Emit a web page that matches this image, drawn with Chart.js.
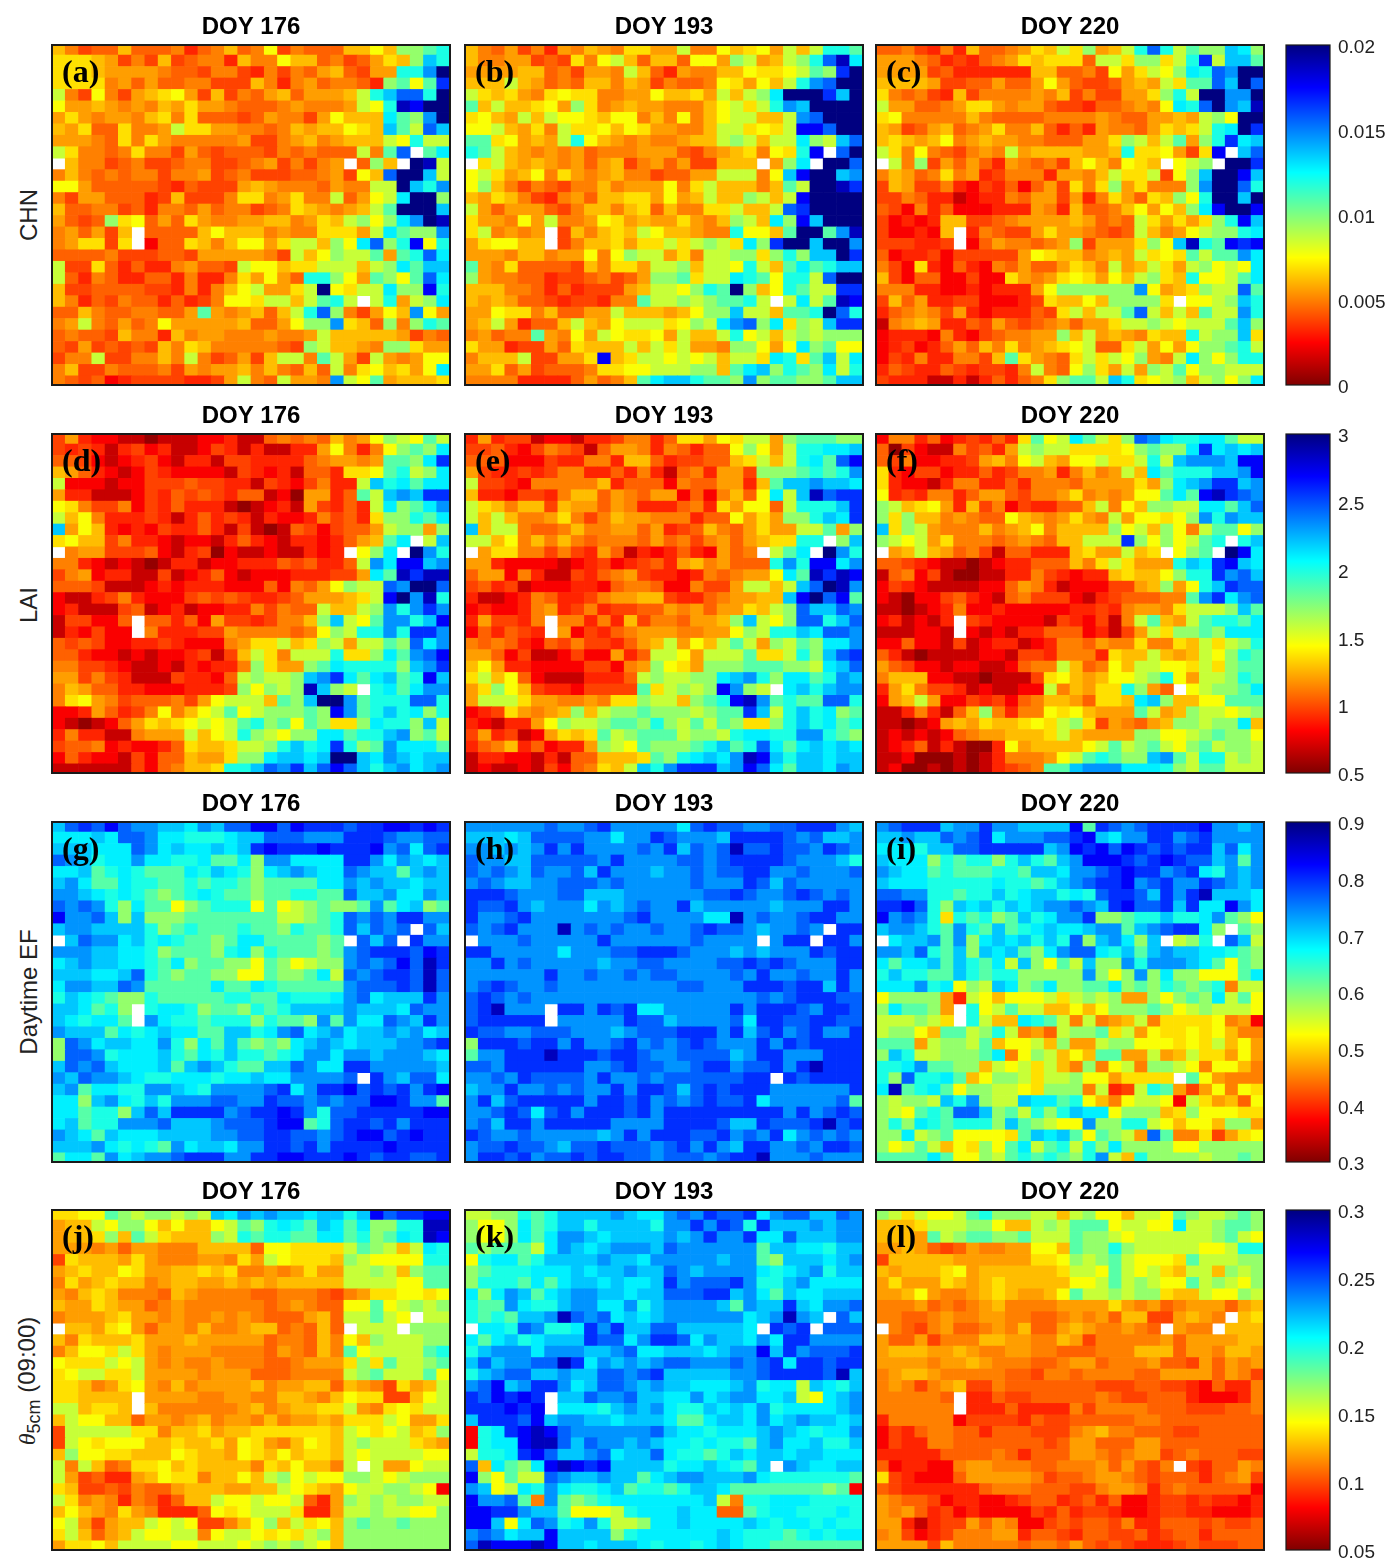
<!DOCTYPE html>
<html>
<head>
<meta charset="utf-8">
<title>CHN, LAI, EF and soil moisture maps</title>
<script src="https://cdn.jsdelivr.net/npm/chart.js@4"></script>
<style>
  body { margin: 0; background: #fff; width: 1390px; height: 1561px; overflow: hidden; position: relative; }
  .box { position: absolute; }
  .rowLabel { position: absolute; left: 29px; font: 24px "Liberation Sans", sans-serif; color: #222; white-space: nowrap; transform: translate(-50%, -50%) rotate(-90deg); }
  .rowLabel i { font-family: "Liberation Serif", serif; }
  .rowLabel sub { font-size: 18px; }
</style>
</head>
<body>
<script>
// cell values are written as one letter per cell, read off the colour of each cell
// '.' = no data, otherwise index into levelFractions (share of the colorbar range, from its bottom)
const levelChars = "0123456789abcdefghijklm";
const levelFractions = [0.02, 0.07, 0.12, 0.16, 0.19, 0.22, 0.25, 0.28, 0.31, 0.345, 0.38, 0.43, 0.48, 0.54, 0.6, 0.64, 0.68, 0.73, 0.78, 0.83, 0.88, 0.94, 1];

const doyTitles = ["DOY 176", "DOY 193", "DOY 220"];
const panelLetters = ["(a)", "(b)", "(c)", "(d)", "(e)", "(f)", "(g)", "(h)", "(i)", "(j)", "(k)", "(l)"];

const chnRange = [0, 0.02];
const laiRange = [0.5, 3];
const efRange = [0.3, 0.9];
const thetaRange = [0.05, 0.3];

const chnTicks = [0, 0.005, 0.01, 0.015, 0.02];
const chnTickLabels = ["0", "0.005", "0.01", "0.015", "0.02"];
const laiTicks = [0.5, 1, 1.5, 2, 2.5, 3];
const laiTickLabels = ["0.5", "1", "1.5", "2", "2.5", "3"];
const efTicks = [0.3, 0.4, 0.5, 0.6, 0.7, 0.8, 0.9];
const efTickLabels = ["0.3", "0.4", "0.5", "0.6", "0.7", "0.8", "0.9"];
const thetaTicks = [0.05, 0.1, 0.15, 0.2, 0.25, 0.3];
const thetaTickLabels = ["0.05", "0.1", "0.15", "0.2", "0.25", "0.3"];

const chn176 = [
"86455 85556 35685 6a465 5588a 8ccde",
"99987 46484 56638 66a88 56457 98cge",
"99987 77765 54664 36465 78547 7eehm",
"99996 75755 66444 86367 56653 cdadj",
"b64a6 4789a 74846 57857 778be giiem",
"a7787 67687 97765 55676 667ba elkmm",
"79767 76896 95554 57664 7a888 fdchm",
"87955 9667b 99776 65687 88a98 gdbig",
"77765 96976 66667 44678 67888 baebb",
"b9665 69664 75455 54656 555b6 di.df",
".8664 56445 66445 67464 67.5c 8.mlb",
"68656 56646 67456 44455 674a8 immgb",
"aa755 55543 54447 87666 5766b bmgeh",
"64775 55348 44469 96796 6b57a bfmmc",
"85566 45366 57566 45698 7678b dmmmg",
"7545c 9a575 97667 78867 98bca cfhml",
"67574 8.555 58a88 86766 9997b fdcch",
"67994 9.255 9868a a79bb 8cafi cekae",
"55556 44455 47777 764b8 acbbd 7deif",
"b4495 35336 7554b aa899 bbb8b cfdgg",
"b5365 33553 63369 7a75e eca7d cadif",
"84455 55443 6368a b779b ma9bb fccke",
"86354 65535 346aa 9bb8b deb.b e7bcf",
"55865 56655 7d767 858be ic647 a8ha7",
"67b65 756a7 77778 557ac ch985 c6ced",
"56554 86638 67766 67667 b8888 87465",
"54745 45486 98666 6654c b8876 cc977",
"466b4 46686 b6457 48bb6 db74b 767aa",
"68446 55564 76778 68658 5b69a 897af",
"65452 34444 3347b 65b77 6hbad 78889"
];
const chn193 = [
"86574 63768 76997 7b66a 89a7b 8beed",
"86677 45496 ab858 85aa7 cb78b ceilf",
"77778 85647 76b85 37668 8a99a bdcjm",
"888b8 75658 86874 6556a 97a8b ehimm",
"b9897 69a99 6677a 8897b 8bcfm mmjgm",
"d8b88 9a7c9 67877 6668a b9beh gmmmm",
"9a87b 8baa9 8aa68 6a68a bb88b himmm",
"aab87 96b99 a8a97 7668b b9a9b kkimm",
"dd9a7 87bea 87676 6788b cb8bb fcbgi",
"edb87 67675 66677 75467 896a9 ek.im",
".9b87 87675 78467 57448 88.7c f.mmi",
"ab978 a6976 78664 5577b bb6ag kmmgh",
"ac864 65466 86777 a69b8 8868d bmmlj",
"87986 43675 88997 a78b8 8cb8b kmmmm",
"b7577 75468 86895 86699 b88bi jmmmm",
"9776a 7b667 a9787 79768 cb8fc kgmmm",
"9b676 7.486 898ba 88766 eaa8d mmdhl",
"79aa8 8.468 89799 b9bcb 9fcjm mgmmh",
"77768 8677a 6acbb 796bb cc9ce cggmj",
"d7695 55548 6997b bc8bb aeb8d fdegg",
"c7665 53445 6457c cd9bb fedae ebimm",
"88866 53534 4478b baced mc8ae dbbjj",
"87875 54344 366db bcbcd deb.b fbdlk",
"77a99 68557 7b888 78acc gbb8d demie",
"78b73 558b8 7abbb 9acbf hicf9 cbgjj",
"67566 d76a7 ba99a 7b88b eab8b cbccc",
"97734 47598 88b8b 9b776 cca7a fcdaa",
"6888b 44779 k89bb abab8 bb9fe 9dgbf",
"77957 45556 99aab bbcc8 dfgce dcfbe",
"66663 33357 568df ggedd chcdd ccdgg"
];
const chn220 = [
"55643 63855 6798b 9c78b eiebd ccgfc",
"77765 34356 79899 95bb9 cc9be jbggd",
"77774 53333 33885 564a7 9bacf eihmm",
"88887 44557 557a7 54457 87b9d digmi",
"96564 38466 66768 46447 79ceb mmhhm",
"b7755 67997 67754 43556 76afe imhgl",
"9a666 66865 55566 66765 57787 bcamm",
"87457 85679 66853 53766 57989 befmj",
"89878 a6787 76655 5779c b8bd7 cejfg",
"b96a6 54676 b7888 8778e 99a74 9k.gi",
".b6c4 75753 76564 8a86a 98.ab c.mmj",
"68756 96734 66637 768b9 9b4ac gmmkg",
"48744 63243 52574 969c7 9666c hmmie",
"44653 31233 65774 73697 598ca emmgm",
"54263 52223 33763 85568 a7a8c fkmmk",
"42323 88445 67777 87565 b9797 9cekg",
"42232 8.365 44797 76545 b867a bccef",
"44433 4.257 66567 c4777 9cagl edkjk",
"52334 24444 47a98 86787 b9a9d bddhf",
"64293 25326 57557 986b7 8b97b cabaf",
"84255 22422 97679 a97a8 bc98e aabdf",
"66633 22323 337ac ccccc ha789 cbbid",
"48573 34422 23498 8a8cc cc9.a abcge",
"35676 47323 33549 b8bbd ib8b8 dbbhe",
"16787 33547 54567 5779b bcbab bbdgc",
"23332 63245 6677c 8b787 6988e bccg9",
"23423 57586 96789 ab559 b7a7a ccdeb",
"24363 36648 d9765 9b9ba c76bf cacee",
"35433 54344 36b65 ac97b 7cbda ccbbb",
"43331 13135 3569c ddbge 9abc8 bcacf"
];
const lai176 = [
"47322 11011 12231 15656 5867a cbadb",
"43431 34231 12431 31133 7a636 acdcf",
"55421 23421 33144 33335 67767 ddcfj",
"87532 12432 22214 32315 5399a debcf",
"b2221 22444 54433 14324 633bg efdff",
"73311 12435 45435 51207 735db ghgjj",
"a9644 62435 33310 12317 4353b fcdfh",
"b8a63 33431 35343 13223 64539 ccedf",
"g7a83 23243 35314 10154 24557 bcc7c",
"9a884 63321 22135 32133 23578 df.bg",
".6774 44521 34021 12113 23.ac f.mhe",
"66321 21013 31223 33545 335bh fkkgh",
"46723 31141 23521 22233 3447f dljll",
"55541 11232 33322 25265 7acbb ihmmi",
"21134 63222 45454 33457 7789b kmhle",
"23111 45123 12233 64655 b88bc hehjh",
"14422 5.553 52744 34668 cgbad hhegk",
"13242 2.633 34476 66656 acbee hejjh",
"54542 23343 22267 99b89 cb7bb dcifh",
"55322 12122 34148 b96bb be99c fdhik",
"66443 21121 32336 c977c dfeee ecghj",
"77464 31114 3325b cbbcg hjfdf gdekg",
"68755 33222 3334c acbcl gcb.e fdfhh",
"69a76 45556 47abb b8dcg mmhde eeiie",
"22375 346a6 8abda bcccd ckhde gefce",
"21012 57989 ababd ecdad c99cf eecgb",
"36331 16777 b8abe cbacc ffdee ghcdb",
"45562 32235 9889b bcege fjecd hfffd",
"25322 14255 8779c cfggf gmmgf hgfgg",
"11111 14256 889ee gihjg ikige ghfgh"
];
const lai193 = [
"37344 12213 34663 5997a 9bb7c dddcc",
"44532 46541 57763 65355 aca7b eeffg",
"55522 24336 63885 34455 89b8b efdik",
"74334 34663 35363 15637 74ccc dedeh",
"b4432 66666 83555 26557 738dg ghggf",
"83324 43688 57657 72526 85afb glijj",
"b9868 84877 57633 35639 7aa5b eeegj",
"b8b86 67964 68776 66355 a797c cegfj",
"g8bb6 55686 67757 34586 57977 bbd7c",
"bb8a6 86865 66657 56467 57899 ee.cg",
".7996 64643 75132 35327 56.bd f.mhe",
"77322 22123 42345 37867 555eh ekkfh",
"57726 31143 56743 32365 677af dljlk",
"45341 22233 25665 22644 7bb8b gimlh",
"31123 65334 67788 43356 7788g kmikd",
"23223 67346 34455 76757 798bc iggih",
"37443 6.663 63846 65778 cgbac iiegi",
"25354 3.724 35677 76677 acbee gfiih",
"65653 25464 43578 b7a8b db7cb dcffh",
"77524 11242 2735b ba7bb bd99b ecgij",
"8a733 22224 4267c a97cc cdddc cbfgi",
"9b8a5 21113 335bc bbccf ghecf fdehg",
"79ca8 43324 444d9 bcbck hcb.f geghh",
"7bbb9 77667 699cb b8cde klhde ddiie",
"23497 678c8 bccdc ccbcd djgbe gefcd",
"32133 7acbb cddce cbdbd c99ce gefde",
"47341 27989 dbcdd dbccb effee hhedc",
"35683 52337 cbadc ccdeg deifd fgfgf",
"13322 13155 8889d cefgf hlkge ggfgg",
"12112 14256 98bge hjjjg hkifd ggfhg"
];
const lai220 = [
"26635 23435 39dab fdb9c ihfee ffdbb",
"50421 16453 7bcbb 9999a cdccf jfgfg",
"54622 33478 6ab87 aab99 bebgh hhgkk",
"93244 23353 46673 6867b 8fdee egghk",
"93221 36633 53666 57777 97cfg hjjgh",
"a3436 63577 54667 96767 aadfd kljih",
"cb89a 73846 24335 58b6a 8ccbb ffdgi",
"c9c88 67655 a8767 976b7 aa9ac hehgg",
"g9cb7 66686 78a68 888ca b8ca6 bddac",
"cbab7 96665 67658 8bbbj cacab de.eg",
".78b8 75641 55333 8977b 89.ac d.mkf",
"55432 11012 33555 869b9 777eg fjkgf",
"15624 10011 33643 23389 88ace ejhig",
"24321 11122 57631 22244 78c7a egjii",
"21022 45321 56444 21345 5566d hjfhi",
"11012 36223 22222 33436 7769b bbcgd",
"23121 3.432 22214 32416 bd87b deedf",
"11122 1.212 13355 52314 7b9cc dcfff",
"22522 14123 31236 65766 96698 b9bce",
"53101 11122 14436 66398 8b878 baced",
"75422 12211 2566b 856a8 bbaa9 b9cdd",
"68882 21101 1149a 878aa bcea7 bbced",
"37964 43121 122b6 8799e c75.a bccdf",
"278b7 22434 25688 75998 fgc88 aaddd",
"11363 158c6 366a9 a8777 db78c bbabc",
"11012 78798 89a9b c9476 578cc bccf8",
"12121 25677 8889b 87777 ccaab cdcca",
"12351 31003 a7888 8abdb cdbac dbccb",
"11200 01013 6667a bdedc cghdb eebcb",
"12001 01013 456dd ghhhf ffecb ddbbb"
];
const ef176 = [
"gijik ihhgg fhgii kkikj jjijj kkjkj",
"fffgf iihff eeefg giiih hhjjj ihhii",
"gggff fihfg ffgfg jkjjj kjjjk hifij",
"ihgef fhffe efddf chhff ffjjh fhgfg",
"ffgde feddd fegfe cfghg ffihg gdghg",
"ghfdd feedd edeed cdddd ffhgh ggfgg",
"hhgfe fedcd efedd cddee ddigg hffhg",
"ihihe cfdda cdeee adabc dccdh dfgcd",
"khhig cgccc ddddd ddbbc deihi hjjhh",
"ghhgg ggecd eddde ddced deigi hi.ig",
".gihh fgefe ddcdf fdddd cd.ig i.jhh",
"hhhgg ffecd ddcef ceddd cdhij jjikj",
"fghgg ffedf cddcc adcab cchih ikilj",
"gggff giedc ddcca adccd fbihi jjili",
"fhhgg ihddd ddfdd feddd ddhii ijili",
"egfed ccedd dddee ddfee efhif gggjh",
"ggfde c.eff ecddc edegg gghgg gfihh",
"gfeff d.hfe edeee ceddc hdhff ihgjh",
"hgggd fefgf fddgg efhif ghfgg hghfg",
"cihfg gffhe cfdgd cdcfg hgfgg ghhij",
"ciihe fffge dfege edefh hfhhg hhhgf",
"gihig fffgd ghged dggih ffjjh hhhhg",
"hgihh gfeef ffeff gffhh hhi.j hgiif",
"ghdff eehhg fehhh hijfh jjkij ijhjk",
"ffcgh fegeh hhiih hjiih ihiik kjhhd",
"ffdee cgigj jjjhi jjkjh eiijj jjjkk",
"fgdee hhhig gghii ijkkd eijji jhjjj",
"hgfdg fffgg gghhi ijjii hijkk ijkjj",
"ggghf efedh fggfh hjjij hjjjj kjjjj",
"dffdh fghhi jjjhh jjkkj jjkji jjiij"
];
const ef193 = [
"hhhhh hihhi jhhhh hfiji ihhii jjjhg",
"gggfg iiiih hfhhj ihhhg jjjji higgh",
"hhghg hjhjh hhhih jgihi liiji ihjih",
"ihhgg iiiii hjhhh hiihi jjjji hhhge",
"ihihg ihhig jhhhg hhihi ijjhh ihhhi",
"hihgg hhiii hihhh hhihh hjigi hhhhh",
"jjjih hhiig gghhh hhhii jihhi jihih",
"jiijh ghhhf hghih hjghh hhhgh hhjjh",
"jhhij hhhhh hhijh hhhff lhihh ijjhh",
"ihijh hhlhi hihhi hhiji ihghh ih.jj",
".hhhi hhhhh jhhhh hhihh hh.hj j.jjh",
"jjhhh hhfhh hiijj jihhh ghghh hjijj",
"hhjhi hhhhh ghhii hhhhi ijiji hhhjj",
"hhhhh hjhhi hhihi ihhhh ihjhh ihhjh",
"hijih hihhh hhhhh hiihh hjjji jjgjh",
"ijihi hhhhh hhhhh hhhhh hhihi jjjii",
"ijlhh h.jjh jijff hhhhh jhjjj ihjji",
"ijjjj j.hhh hhjii ghhhh ifjji ijjii",
"jiihh iiihh hghii ijjjh jgijh ijhhj",
"cjjji jjhjh hijhi hijih hhjhj ijjjj",
"dhhjj jljjj ijjih hiiii ghjjh hhjjj",
"iihjj jjjjh hijii hhijj hiijh jljjj",
"hhihj iiiih jhhih iiiii ijj.j ijjjj",
"ghhjh hihih hjhjj igiji jjjhh hhhhj",
"hjgij jjjjh jjijh ihiji ijfhh hhhid",
"hhiji fijhj jjijh jjjjj jjjjh jhiji",
"higjj hjjjj jhhhh jjjji ggjii ijlij",
"jihhi hhhhh ghjhj jjiij hihjf hihih",
"hiiji ihgii jiiih ijhjh gjjhh ihjji",
"hjjij hiiji jjiih iiihi jjlhh hihhh"
];
const ef220 = [
"hijjj ghhjh hgggg kdjih ijjjj khhgh",
"gghgg ihijf hhhii jkgfh hjjhi jhhhh",
"fffeg giijj jjjgh kjkik jijij jgifh",
"gfffc edeec egedg hkkkj ijkji ighdh",
"hgffd eddde edggf hhijk jjhij fehgh",
"gfffe eeeef eedeg hijjk hijhh jihgh",
"iihhe edeeg efgge feijj igjhj lgggf",
"jjkie cgfge gfghh ihgjk iijgj ffkhf",
"khihe 9edec dgefh hjccd eegee fhdca",
"ghhge dhedg defgf fghhd ghijj fc.dc",
".fggh dhcfg fgege icghf cg.bc e.igb",
"hhgie dgcgf gdcfh iifeg dghgg ffedc",
"fdffg dgedf bgcad bgcch ehhhg fdadc",
"egeed dgede ecccc chcac hcfcc aaadf",
"fffhe facbg fcdfc cddfc dcedc de6bb",
"acccc 73ba8 aaab9 bcbc7 7cacd cfbda",
"cfddc 7.eab dbb88 a8acc cdcab cbbba",
"bbbcb 9.eb8 8fedb 6b678 b6999 9a672",
"bcca8 ddbce b675b ccd9b 7a99a 9a866",
"ddd7b ccbd8 aab8c 77bcc aaa9a 9b8a7",
"cgebb cccdf 6acb8 a8dd7 7b78b 997a7",
"eefhd dcc8b ab9b8 6c6ab 6ccba 6aa86",
"eciee fd8ac cb9bb caa79 999.d a7666",
"fldef daccb ba9cc c6b34 bed74 7a6a9",
"cbccb gehcb bgffd ea86a bba2b 9785a",
"cbade diigc dbece gffac cc89c aaa99",
"cecfe deeec gdcba ahcce eba8a a8cc7",
"ccfbc daaaa 9dgfg dadcb 7id66 9479a",
"cabdb 8a9ca dfbde becfc cccaa ccccc",
"ddddf daacb deded cehb8 ecccc bccdc"
];
const theta176 = [
"99aad cbccb cbgfh ghggf ggegk ijjkk",
"788ba cca8a 88abd cefed gfdfc ceell",
"7889c 8db98 88cbe deedd ffdec dfelk",
"77767 57766 68888 5aa99 99bdc b8bfe",
"49888 79766 67769 7ba99 98cba aaaee",
"78988 a9778 89896 67679 77bbc b8cdd",
"69789 88678 87787 87888 88bbb baadd",
"76898 66658 76666 55666 54679 9aa9a",
"87798 77567 66666 65676 55aad abcbc",
"67778 97767 66767 65557 85bbd ba.bb",
".8879 a7577 68667 88565 85.bb b.ccc",
"86988 89777 87777 75665 86a8c bbbcc",
"68aa9 b9767 77666 65765 86dab bbbde",
"a999b ab767 66766 65567 779c9 dbbcd",
"9abb9 9b777 76777 55566 66bcd bbbda",
"99867 9a768 67777 86778 85876 4978b",
"99888 8.777 76677 66887 68a99 448ab",
"bb899 8.866 66667 86788 99b76 9a9bb",
"8baa8 85776 78677 68677 87999 ba779",
"4bbbb b9968 89788 99999 98ba9 ab89c",
"4ba9a aa889 8897a 9768a 98bcb bb987",
"8caa9 9888a 9887a 98a89 98bab bbbaa",
"b6b85 699a8 98888 698a8 86b.b 77abb",
"b7453 378a9 9688a 8bcab aaccb abccc",
"98445 46557 88877 88ba9 87abb ccba2",
"b9676 36535 88baa baab5 37cbc bccbb",
"8a876 97633 35a9a bbb93 37bbc bbaac",
"ab747 88bab a4468 ac8b9 a8cdc cdccc",
"9b857 8baab b6abb a9a9b c8ccc ccccc",
"799a8 bbbba abbba bcbcb a8ccc ccccc"
];
const theta193 = [
"bbcce deggg ghgff hihji ijfhi iggih",
"caacf degge gggge hhjhj iejgg ghghh",
"caacf dfhhg fgggg hghjh hjffi ggghh",
"dcddd bfhgf ghhhg ihhhh hhdgg ffegg",
"aeffd egggg hggfh hhhhg hhdcg ggfgh",
"cdeee fffgf gghgg ihghh hhfef ghegg",
"ceeed fdfgg fgffg jhiii jheeg hffff",
"fcfhg dfghh ggfgg iiijj ghfdg ffggg",
"eddhf eeghh ffheg hhhhg dhggj gfhhi",
"ededg ghlih ifgfg hhhhh hfghl hg.ig",
".ffei heefj hjggi igggg gf.ji j.iii",
"fdfge fgggj iifhj jifhg gfhfj jhhhh",
"eghhh fhhhg ghiff gggfg hhkgj hiiij",
"gighh iiljf hghgh iihhh ihijf jjijj",
"eghii gghgg iihij ggggg hhijj jjilg",
"hikgh jjhfg iihgh ggfff gheff bgfeg",
"jikjk j.ggi hhigg ffhfg hhffg bafgh",
"jjjkj k.fff eghgh feegf gfhef fffgh",
"gjjji kghhg gfggg fddfg gfhfg hggfg",
"2efjk lkihh hhhhi gffef ffghg feffh",
"2effk lligi hhghg ffefe edghf fgeeg",
"beefj kiggh ifggi feede gfggf ggfff",
"i8fdc fklkj kgggg effgf edg.h gffgg",
"kcadb bihgg hggdf ghhgg ghfee eeeed",
"hgabf ehfee fgdee deggf ddddd ddcd2",
"khhid 6hdcd effff fffgb 6eeff feeee",
"kkjjh ggdaa abeff fgff5 5deff eeefe",
"kkgaf ihefh ebbcf fgfff fgfef fefee",
"hihfg gkggg gceff ffffg feeed efeff",
"ilkkk lkggf gggfe ffefg feedd ddddd"
];
const theta220 = [
"cb9ba abdec ccbb8 bcaa8 bbadc bbcdc",
"8889b bbcca 88bcb dddab baafb bcddc",
"8887d bcddc cdbbb dccba bbbbb bcdba",
"77875 45766 77aa8 dccec bbbbb aabee",
"48888 87777 7799a cbcdb aaa9d bbbcc",
"87888 9a788 88889 bbadb ab98b b8cbc",
"79777 98789 88888 aabdb cbaad bcbac",
"778a7 66789 8778a dbbcb cc988 baacb",
"66675 65678 66667 77797 67567 77578",
"66556 76677 66556 76758 84478 76.89",
".6546 75567 68557 87667 65.76 6.888",
"75574 66688 77668 74666 66757 77788",
"78887 78766 77665 55666 88857 76887",
"77776 77876 66556 77566 67554 75767",
"67887 66666 55466 56666 55777 75764",
"67646 78446 55555 55444 55443 25336",
"66666 5.335 44555 55654 45553 22236",
"66666 6.333 53333 64666 65554 44556",
"36666 62444 43544 55555 66555 55555",
"24356 65535 55444 67866 55544 55555",
"24336 65555 55545 77555 77555 55555",
"33333 55556 53555 77656 77456 55544",
"52332 26776 66556 66757 546.4 35576",
"94322 25777 77645 56776 54555 35674",
"54333 33356 66555 44677 63565 55552",
"76554 23322 34553 45352 23443 43323",
"76753 42322 22435 34432 23443 32223",
"77313 44757 62245 45546 33555 45445",
"67423 46667 73554 35544 53455 35555",
"77774 86666 65665 75454 33345 44455"
];

const rowSets = [
    { panels: [chn176, chn193, chn220], range: chnRange, ticks: chnTicks, tickLabels: chnTickLabels, top: 45, height: 340 },
    { panels: [lai176, lai193, lai220], range: laiRange, ticks: laiTicks, tickLabels: laiTickLabels, top: 434, height: 339 },
    { panels: [ef176, ef193, ef220], range: efRange, ticks: efTicks, tickLabels: efTickLabels, top: 822, height: 340 },
    { panels: [theta176, theta193, theta220], range: thetaRange, ticks: thetaTicks, tickLabels: thetaTickLabels, top: 1210, height: 340 }
];
const colLefts = [52, 465, 876];
const colWidths = [398, 398, 388];
const titleSpace = 33;
const columnIndexes = Array.from({ length: 30 }, (_, i) => i);

Chart.defaults.animation = false;
Chart.defaults.font.family = '"Liberation Sans", sans-serif';
Chart.defaults.color = "#000";

// reversed jet: 0 = dark red, 1 = dark blue
function jetColor(t) {
    let r, g, b;
    if(t < 0.125) { r = 0.5 + 4*t; }
    else if(t < 0.375) { r = 1; }
    else if(t < 0.625) { r = 1 - (t - 0.375)*4; }
    else { r = 0; }
    if(t < 0.125) { g = 0; }
    else if(t < 0.375) { g = (t - 0.125)*4; }
    else if(t < 0.625) { g = 1; }
    else if(t < 0.875) { g = 1 - (t - 0.625)*4; }
    else { g = 0; }
    if(t < 0.375) { b = 0; }
    else if(t < 0.625) { b = (t - 0.375)*4; }
    else if(t < 0.875) { b = 1; }
    else { b = 1 - (t - 0.875)*4; }
    return "rgb(" + Math.round(r*255) + "," + Math.round(g*255) + "," + Math.round(b*255) + ")";
}

function decodeCells(rows, range) {
    let cells = [];
    rows.forEach((row, r) => {
        row.split(" ").join("").split("").forEach((ch, c) => {
            if(ch !== ".") {
                let frac = levelFractions[levelChars.indexOf(ch)];
                cells.push({ x: c, y: [r, r + 1], v: range[0] + frac*(range[1] - range[0]) });
            }
        });
    });
    return cells;
}

function addCanvas(left, top, width, height) {
    let box = document.createElement("div");
    box.className = "box";
    box.style.left = left + "px";
    box.style.top = top + "px";
    box.style.width = width + "px";
    box.style.height = height + "px";
    let canvas = document.createElement("canvas");
    box.appendChild(canvas);
    document.body.appendChild(box);
    return canvas;
}

function framePlugin(lineWidth, letter) {
    return {
        id: "frame",
        afterDraw(chart) {
            const a = chart.chartArea;
            const ctx = chart.ctx;
            ctx.save();
            ctx.strokeStyle = "#1a1a1a";
            ctx.lineWidth = lineWidth;
            ctx.strokeRect(a.left, a.top, a.right - a.left, a.bottom - a.top);
            if(letter) {
                ctx.fillStyle = "#000";
                ctx.font = 'bold 32px "Liberation Serif", serif';
                ctx.textBaseline = "alphabetic";
                ctx.fillText(letter, a.left + 10, a.top + 37);
            }
            ctx.restore();
        }
    };
}

function drawPanel(rows, range, col, set, letter) {
    const canvas = addCanvas(colLefts[col] - 2, set.top - titleSpace, colWidths[col] + 4, set.height + titleSpace + 2);
    new Chart(canvas, {
        type: "bar",
        data: {
            labels: columnIndexes,
            datasets: [{
                data: decodeCells(rows, range),
                backgroundColor: ctx => jetColor((ctx.raw.v - range[0])/(range[1] - range[0])),
                barPercentage: 1,
                categoryPercentage: 1,
                borderWidth: 0
            }]
        },
        options: {
            responsive: true,
            maintainAspectRatio: false,
            layout: { padding: { left: 2, right: 2, bottom: 2 } },
            plugins: {
                legend: { display: false },
                tooltip: { enabled: false },
                title: {
                    display: true,
                    text: doyTitles[col],
                    color: "#000",
                    font: { size: 24, weight: "bold" },
                    padding: { top: 1, bottom: 3.2 }
                }
            },
            scales: {
                x: { display: false, offset: true },
                // top and bottom rows are cut off a little by the frame
                y: { display: false, reverse: true, min: 0.12, max: 29.8 }
            }
        },
        plugins: [framePlugin(2, letter)]
    });
}

function drawColorbar(set) {
    const canvas = addCanvas(1284, set.top - 14, 106, set.height + 28);
    new Chart(canvas, {
        type: "bar",
        data: {
            labels: [""],
            datasets: [{
                data: [[set.range[0], set.range[1]]],
                barPercentage: 1,
                categoryPercentage: 1,
                borderWidth: 0,
                backgroundColor: ctx => {
                    const a = ctx.chart.chartArea;
                    if(!a) { return "#fff"; }
                    const grad = ctx.chart.ctx.createLinearGradient(0, a.bottom, 0, a.top);
                    [0, 0.125, 0.375, 0.625, 0.875, 1].forEach(stop => grad.addColorStop(stop, jetColor(stop)));
                    return grad;
                }
            }]
        },
        options: {
            responsive: true,
            maintainAspectRatio: false,
            layout: { padding: { left: 2, top: 14, bottom: 14 } },
            plugins: { legend: { display: false }, tooltip: { enabled: false } },
            scales: {
                x: { display: false },
                y: {
                    position: "right",
                    min: set.range[0],
                    max: set.range[1],
                    grid: { display: false },
                    border: { display: false },
                    afterBuildTicks: scale => { scale.ticks = set.ticks.map(v => ({ value: v })); },
                    afterFit: scale => { scale.width = 60; scale.paddingTop = 0; scale.paddingBottom = 0; },
                    ticks: {
                        autoSkip: false,
                        padding: 0,
                        labelOffset: 3,
                        font: { size: 19 },
                        color: "#222",
                        callback: v => set.tickLabels[set.ticks.indexOf(v)]
                    }
                }
            }
        },
        plugins: [framePlugin(1.2)]
    });
}

let letterIndex = 0;
rowSets.forEach(set => {
    set.panels.forEach((rows, col) => {
        drawPanel(rows, set.range, col, set, panelLetters[letterIndex]);
        letterIndex++;
    });
    drawColorbar(set);
});

function addRowLabel(html, centerY) {
    let label = document.createElement("div");
    label.className = "rowLabel";
    label.style.top = centerY + "px";
    label.innerHTML = html;
    document.body.appendChild(label);
}
addRowLabel("CHN", 215);
addRowLabel("LAI", 605);
addRowLabel("Daytime EF", 992);
addRowLabel("<i>θ</i><sub>5cm</sub>&nbsp;(09:00)", 1381);
</script>
</body>
</html>
